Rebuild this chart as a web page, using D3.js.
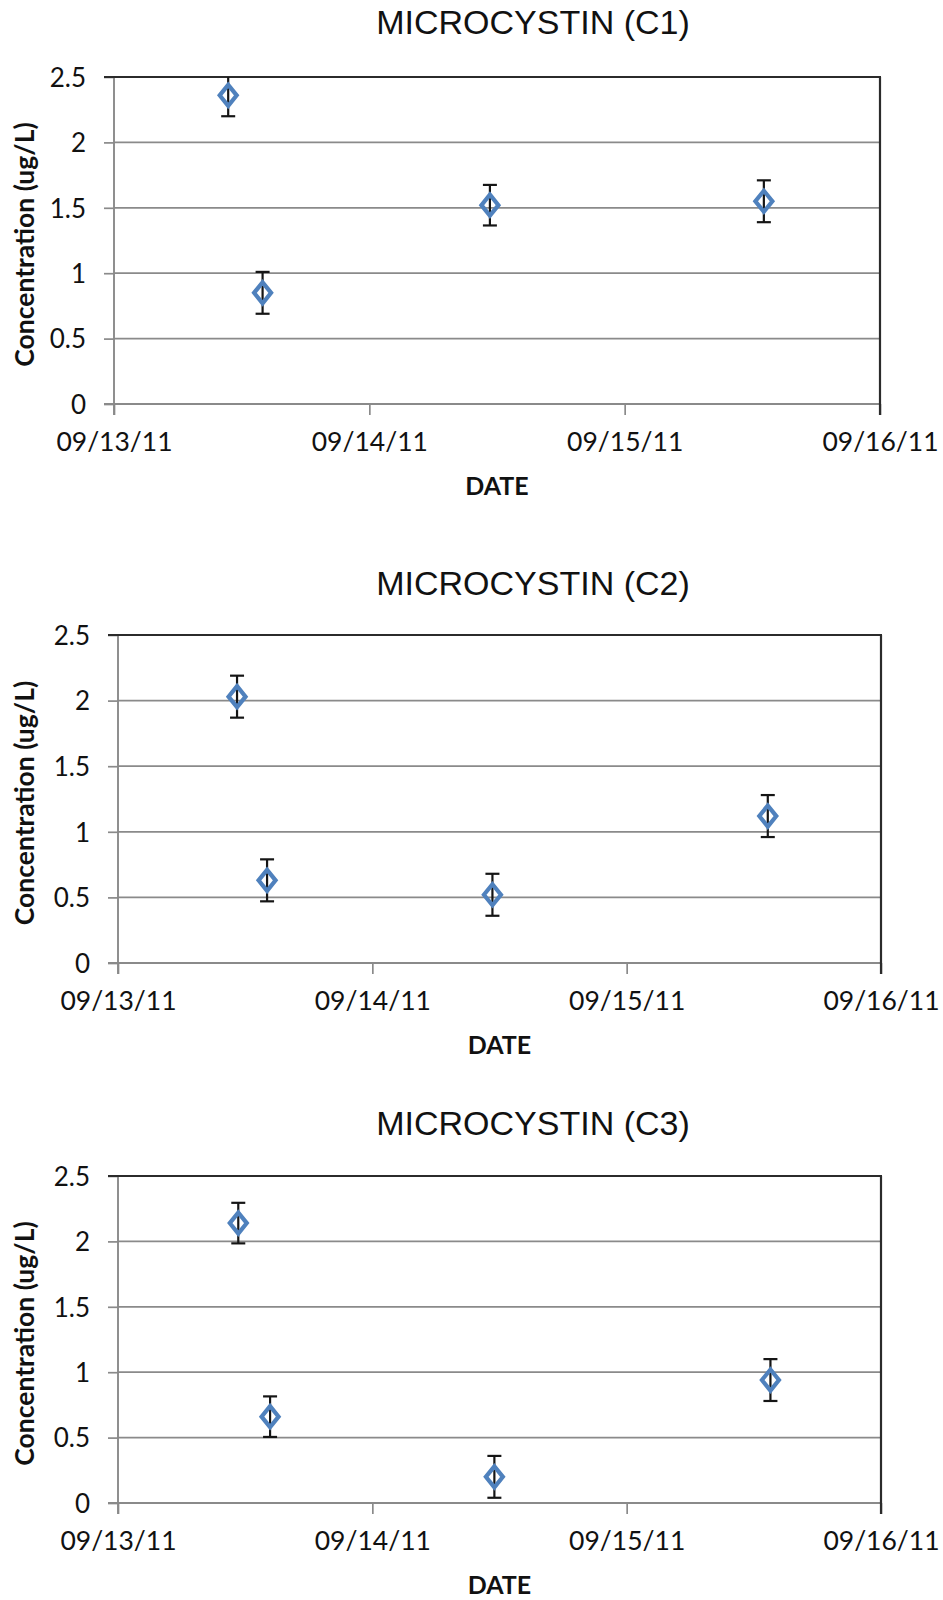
<!DOCTYPE html>
<html>
<head>
<meta charset="utf-8">
<script src="https://cdn.jsdelivr.net/npm/d3@7"></script>
<style>
  html, body { margin: 0; padding: 0; background: #ffffff; }
  svg { display: block; }
</style>
</head>
<body>
<svg id="chart" width="943" height="1600"></svg>
<script>
// Sampling times and microcystin concentrations (ug/L) for each site
const sampleTimesC1 = ["2011-09-13T10:44", "2011-09-13T13:58", "2011-09-14T11:20", "2011-09-15T13:05"];
const concC1 = [2.36, 0.85, 1.52, 1.55];
const errC1 = [0.16, 0.16, 0.155, 0.16];

const sampleTimesC2 = ["2011-09-13T11:14", "2011-09-13T14:04", "2011-09-14T11:20", "2011-09-15T13:19"];
const concC2 = [2.03, 0.63, 0.52, 1.12];
const errC2 = [0.16, 0.16, 0.16, 0.16];

const sampleTimesC3 = ["2011-09-13T11:21", "2011-09-13T14:21", "2011-09-14T11:31", "2011-09-15T13:34"];
const concC3 = [2.14, 0.66, 0.20, 0.94];
const errC3 = [0.155, 0.155, 0.16, 0.16];

const titles = ["MICROCYSTIN (C1)", "MICROCYSTIN (C2)", "MICROCYSTIN (C3)"];
const xTickDates = ["2011-09-13", "2011-09-14", "2011-09-15", "2011-09-16"];
const yTicks = [0, 0.5, 1, 1.5, 2, 2.5];
const yAxisTitle = "Concentration (ug/L)";
const xAxisTitle = "DATE";

const parseTime = d3.timeParse("%Y-%m-%dT%H:%M");
const parseDay = d3.timeParse("%Y-%m-%d");
const fmtDay = d3.timeFormat("%m/%d/%y");

const series = [
  { title: titles[0], times: sampleTimesC1, values: concC1, errors: errC1 },
  { title: titles[1], times: sampleTimesC2, values: concC2, errors: errC2 },
  { title: titles[2], times: sampleTimesC3, values: concC3, errors: errC3 }
];

// Plot-area boxes for the three stacked panels
const boxes = [
  { left: 114, right: 880, top: 77, bottom: 404, titleY: 34 },
  { left: 118, right: 881, top: 635, bottom: 963, titleY: 595 },
  { left: 118, right: 881, top: 1176, bottom: 1503, titleY: 1135 }
];

const svg = d3.select("#chart");
const tickFont = "Lato, 'Open Sans', sans-serif";
const gridColor = "#8a8a8a";
const frameColor = "#2b2b2b";
const markerColor = "#4f81bd";

// Hollow diamond marker outline, slightly taller than wide
const diamondPath = (() => {
  const p = d3.path();
  const hw = 8.5, hh = 10.5;
  p.moveTo(0, -hh); p.lineTo(hw, 0); p.lineTo(0, hh); p.lineTo(-hw, 0); p.closePath();
  return p.toString();
})();

series.forEach((s, i) => {
  const b = boxes[i];
  const g = svg.append("g");

  const x = d3.scaleTime()
    .domain([parseDay(xTickDates[0]), parseDay(xTickDates[xTickDates.length - 1])])
    .range([b.left, b.right]);
  const y = d3.scaleLinear()
    .domain([yTicks[0], yTicks[yTicks.length - 1]])
    .range([b.bottom, b.top]);

  // Horizontal gridlines
  g.append("g")
    .selectAll("line")
    .data(yTicks.slice(1, -1))
    .join("line")
    .attr("x1", b.left).attr("x2", b.right)
    .attr("y1", d => y(d)).attr("y2", d => y(d))
    .attr("stroke", gridColor).attr("stroke-width", 1.7);

  // Y axis
  const yAxis = g.append("g")
    .attr("transform", `translate(${b.left},0)`)
    .call(d3.axisLeft(y).tickValues(yTicks).tickSize(10).tickPadding(18).tickFormat(d => String(d)));
  yAxis.select(".domain").remove();
  yAxis.selectAll(".tick line").attr("stroke", gridColor).attr("stroke-width", 1.7);
  yAxis.selectAll(".tick text")
    .attr("font-family", tickFont).attr("font-size", 26).attr("fill", "#111")
    .attr("dy", "0.36em");

  // X axis
  const xAxis = g.append("g")
    .attr("transform", `translate(0,${b.bottom})`)
    .call(d3.axisBottom(x).tickValues(xTickDates.map(parseDay)).tickSize(11).tickFormat(fmtDay));
  xAxis.select(".domain").remove();
  xAxis.selectAll(".tick line").attr("stroke", gridColor).attr("stroke-width", 1.7);
  xAxis.selectAll(".tick text")
    .attr("font-family", tickFont).attr("font-size", 26.5).attr("fill", "#111")
    .attr("y", 47).attr("dy", 0);

  // Axis lines and plot frame
  g.append("line")
    .attr("x1", b.left - 10).attr("x2", b.right)
    .attr("y1", b.bottom).attr("y2", b.bottom)
    .attr("stroke", gridColor).attr("stroke-width", 1.9);
  g.append("line")
    .attr("x1", b.left).attr("x2", b.left)
    .attr("y1", b.top).attr("y2", b.bottom + 11)
    .attr("stroke", gridColor).attr("stroke-width", 1.9);
  g.append("line")
    .attr("x1", b.left - 10).attr("x2", b.right + 1)
    .attr("y1", b.top).attr("y2", b.top)
    .attr("stroke", frameColor).attr("stroke-width", 2.2);
  g.append("line")
    .attr("x1", b.right).attr("x2", b.right)
    .attr("y1", b.top).attr("y2", b.bottom + 11)
    .attr("stroke", frameColor).attr("stroke-width", 2.2);

  // Clip error bars to the plot area
  const clipId = `plot-clip-${i}`;
  svg.append("defs").append("clipPath").attr("id", clipId)
    .append("rect")
    .attr("x", b.left - 20).attr("y", b.top)
    .attr("width", b.right - b.left + 40).attr("height", b.bottom - b.top);

  const pts = s.times.map((t, k) => ({ t: parseTime(t), v: s.values[k], e: s.errors[k] }));

  const err = g.append("g").attr("clip-path", `url(#${clipId})`)
    .selectAll("g").data(pts).join("g")
    .attr("stroke", "#151515").attr("stroke-width", 2.2);
  err.append("line")
    .attr("x1", d => x(d.t)).attr("x2", d => x(d.t))
    .attr("y1", d => y(d.v + d.e)).attr("y2", d => y(d.v - d.e));
  err.append("line")
    .attr("x1", d => x(d.t) - 7).attr("x2", d => x(d.t) + 7)
    .attr("y1", d => y(d.v + d.e)).attr("y2", d => y(d.v + d.e));
  err.append("line")
    .attr("x1", d => x(d.t) - 7).attr("x2", d => x(d.t) + 7)
    .attr("y1", d => y(d.v - d.e)).attr("y2", d => y(d.v - d.e));

  // Hollow diamond markers
  g.append("g")
    .selectAll("path").data(pts).join("path")
    .attr("d", diamondPath)
    .attr("transform", d => `translate(${x(d.t)},${y(d.v)})`)
    .attr("fill", "none")
    .attr("stroke", markerColor)
    .attr("stroke-width", 4.2)
    .attr("stroke-linejoin", "miter");

  // Titles
  g.append("text")
    .attr("x", 533).attr("y", b.titleY)
    .attr("text-anchor", "middle")
    .attr("font-family", "'Liberation Sans', Arial, sans-serif")
    .attr("font-size", 34).attr("fill", "#111")
    .text(s.title);

  g.append("text")
    .attr("transform", `translate(34,${(b.top + b.bottom) / 2 + 4}) rotate(-90)`)
    .attr("text-anchor", "middle")
    .attr("font-family", tickFont).attr("font-weight", 700)
    .attr("font-size", 26.5).attr("fill", "#111")
    .text(yAxisTitle);

  g.append("text")
    .attr("x", (b.left + b.right) / 2).attr("y", b.bottom + 91)
    .attr("text-anchor", "middle")
    .attr("font-family", tickFont).attr("font-weight", 700)
    .attr("font-size", 25).attr("fill", "#111")
    .text(xAxisTitle);
});
</script>
</body>
</html>
